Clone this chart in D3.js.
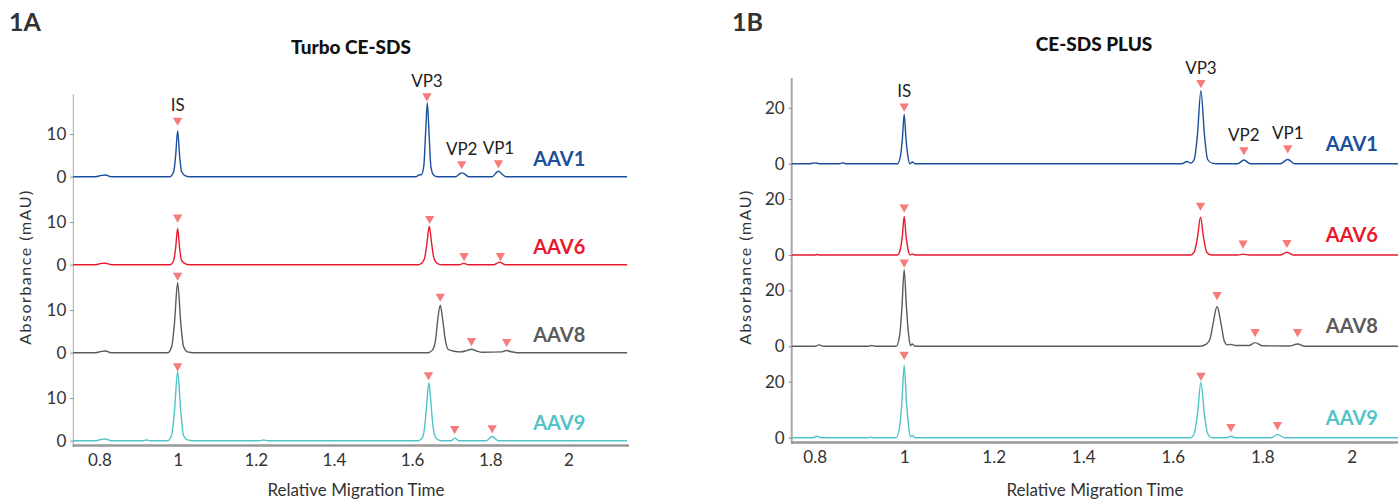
<!DOCTYPE html>
<html>
<head>
<meta charset="utf-8">
<script src="https://cdn.jsdelivr.net/npm/d3@7"></script>
<style>
  body { margin: 0; background: #fff; }
  svg { font-family: Lato, "Open Sans", sans-serif; }
</style>
</head>
<body>
<div id="chart"></div>
<script>
// series names and colours (same for both panels)
var seriesNames = ["AAV1", "AAV6", "AAV8", "AAV9"];
var seriesColors = ["#1c4f9c", "#e8192c", "#5b5b5b", "#52c3c9"];
var peakNames = ["IS", "VP3", "VP2", "VP1"];
var xTicks = [0.8, 1, 1.2, 1.4, 1.6, 1.8, 2];
var turboYTicks = [0, 10];
var plusYTicks = [0, 20];

// Turbo CE-SDS traces, [relative migration time, mAU]
var turboAAV1 = [[0.733,0],[0.79,0],[0.805,0.3],[0.815,0.4],[0.83,0],[0.98,0],[0.99,1.2],[0.995,5],[1.0,10.8],[1.005,5],[1.01,1.2],[1.02,0.2],[1.03,0],[1.61,0],[1.618,0.4],[1.624,0.5],[1.63,2.5],[1.635,11],[1.639,17.3],[1.643,11],[1.648,2.5],[1.655,0.4],[1.665,0],[1.712,0],[1.722,0.7],[1.727,0.9],[1.733,0.7],[1.745,0],[1.805,0],[1.815,0.9],[1.821,1.3],[1.827,0.9],[1.84,0],[2.15,0]];
var turboAAV6 = [[0.733,0],[0.79,0],[0.805,0.3],[0.815,0.35],[0.83,0],[0.98,0],[0.99,1],[0.995,4],[1.0,8.5],[1.005,4],[1.01,1],[1.02,0.2],[1.03,0],[1.615,0],[1.625,0.4],[1.632,1.5],[1.638,5],[1.644,9.0],[1.65,5],[1.656,1.5],[1.664,0.3],[1.675,0],[1.72,0],[1.732,0.3],[1.745,0],[1.81,0],[1.824,0.6],[1.838,0],[2.15,0]];
var turboAAV8 = [[0.733,0],[0.79,0],[0.805,0.3],[0.815,0.4],[0.83,0],[0.975,0],[0.985,1.5],[0.992,7],[1.0,16.4],[1.008,7],[1.015,1.5],[1.025,0.2],[1.04,0],[1.64,0],[1.652,0.6],[1.66,3],[1.666,8],[1.672,11.1],[1.678,8],[1.685,3],[1.692,0.8],[1.705,0.4],[1.725,0.2],[1.74,0.5],[1.752,0.8],[1.765,0.4],[1.78,0.1],[1.83,0.2],[1.841,0.5],[1.855,0.2],[1.87,0],[2.15,0]];
var turboAAV9 = [[0.733,0],[0.79,0],[0.805,0.3],[0.815,0.4],[0.83,0],[0.91,0],[0.92,0.15],[0.93,0],[0.975,0],[0.985,1.5],[0.992,7],[1.0,16.2],[1.008,7],[1.015,1.2],[1.025,0.2],[1.04,0],[1.21,0],[1.22,0.15],[1.23,0],[1.615,0],[1.625,0.5],[1.632,3],[1.637,8],[1.643,13.6],[1.649,8],[1.654,3],[1.662,0.5],[1.675,0],[1.7,0],[1.709,0.6],[1.72,0],[1.79,0],[1.805,1.0],[1.82,0],[2.15,0]];

// CE-SDS PLUS traces
var plusAAV1 = [[0.749,0],[0.79,0],[0.8,0.3],[0.81,0],[0.855,0],[0.862,0.3],[0.87,0],[0.985,0],[0.992,3],[0.996,9],[1.0,17.7],[1.004,9],[1.008,3],[1.013,0],[1.018,0.6],[1.024,0],[1.62,0],[1.632,0.8],[1.64,0.2],[1.648,1.5],[1.655,10],[1.663,26.1],[1.671,10],[1.678,1.5],[1.688,0.2],[1.7,0],[1.745,0],[1.759,1.3],[1.773,0],[1.84,0],[1.857,1.5],[1.872,0],[2.2,0]];
var plusAAV6 = [[0.749,0],[0.8,0],[0.805,0.2],[0.81,0],[0.985,0],[0.992,2.5],[0.996,7],[1.0,13.8],[1.004,7],[1.008,2.5],[1.013,0],[1.018,0.4],[1.024,0],[1.64,0],[1.648,1],[1.655,6],[1.662,13.5],[1.669,6],[1.676,1],[1.686,0],[1.745,0],[1.757,0.3],[1.77,0],[1.84,0],[1.855,1.0],[1.87,0],[2.2,0]];
var plusAAV8 = [[0.749,0],[0.8,0],[0.81,0.5],[0.82,0],[0.92,0],[0.928,0.3],[0.935,0],[0.982,0],[0.99,4],[0.995,14],[1.0,27.4],[1.005,14],[1.01,4],[1.014,0.3],[1.018,0.8],[1.024,0],[1.66,0],[1.675,0.8],[1.683,2.5],[1.69,8],[1.699,14.2],[1.708,8],[1.715,2],[1.722,0.5],[1.73,0.7],[1.74,0.3],[1.77,0.3],[1.784,1.3],[1.8,0.2],[1.86,0.1],[1.879,0.8],[1.895,0],[2.2,0]];
var plusAAV9 = [[0.749,0],[0.795,0],[0.805,0.5],[0.815,0],[0.92,0],[0.925,0.2],[0.93,0],[0.982,0],[0.99,4],[0.995,13],[1.0,25.9],[1.005,13],[1.01,4],[1.014,0.3],[1.018,0.7],[1.025,0],[1.64,0],[1.648,1.5],[1.655,8],[1.663,19.8],[1.671,8],[1.678,1.5],[1.688,0],[1.72,0],[1.73,0.5],[1.74,0],[1.82,0],[1.834,1.2],[1.85,0],[2.2,0]];

// peak markers (IS, VP3, VP2, VP1), [time, mAU]
var turboMarkAAV1 = [[1.0,13.2],[1.638,18.9],[1.727,3.0],[1.821,3.2]];
var turboMarkAAV6 = [[1.0,11.1],[1.645,10.8],[1.733,2.1],[1.826,2.1]];
var turboMarkAAV8 = [[1.0,18.1],[1.672,13.2],[1.752,2.8],[1.842,2.6]];
var turboMarkAAV9 = [[1.0,17.5],[1.642,15.4],[1.709,2.8],[1.805,3.0]];
var plusMarkAAV1 = [[1.0,20.5],[1.663,28.9],[1.759,4.9],[1.857,5.6]];
var plusMarkAAV6 = [[1.0,17.1],[1.662,17.7],[1.757,4.2],[1.855,4.4]];
var plusMarkAAV8 = [[1.0,30.0],[1.699,18.4],[1.784,5.2],[1.879,5.2]];
var plusMarkAAV9 = [[1.0,29.7],[1.663,22.2],[1.73,3.9],[1.834,4.6]];

var W = 1398, H = 499;
var svg = d3.select("#chart").append("svg")
    .attr("width", W)
    .attr("height", H);

function drawPanel(p){
    var g = svg.append("g");

    // x scale
    var x = d3.scaleLinear().domain(p.xDomain).range(p.xRange);

    // panel letter and title
    g.append("text").attr("x", p.letterX).attr("y", 31)
        .attr("font-size", 25).attr("font-weight", 700).attr("fill", "#333")
        .text(p.letter);
    g.append("text").attr("x", p.titleX).attr("y", p.titleY)
        .attr("text-anchor", "middle").attr("font-size", 19).attr("font-weight", 900)
        .attr("fill", "#111").text(p.title);

    // y axis line (full height)
    g.append("line")
        .attr("x1", p.xRange[0]).attr("x2", p.xRange[0])
        .attr("y1", p.axisTop).attr("y2", p.axisBottom)
        .attr("stroke", "#a8a8a8").attr("stroke-width", p.yAxisWidth);

    var line = d3.line().curve(d3.curveMonotoneX);
    var symbol = d3.symbol().type(d3.symbolTriangle).size(38);

    p.traces.forEach(function(trace, i){
        var b = p.baselines[i];
        var y = d3.scaleLinear().domain([0, p.yMax]).range([b, b - p.tickPx]);

        // y ticks for this track
        var ax = g.append("g")
            .attr("transform", "translate(" + p.xRange[0] + ",0)")
            .call(d3.axisLeft(y).tickValues(p.yTicks).tickSize(3).tickPadding(4));
        ax.select(".domain").remove();
        ax.selectAll("line").attr("stroke", "#888");
        ax.selectAll("text").attr("font-size", 17).attr("fill", "#333")
            .attr("font-family", "Lato, sans-serif");

        // trace
        line.x(function(d){ return x(d[0]); }).y(function(d){ return y(d[1]); });
        g.append("path").datum(trace)
            .attr("d", line)
            .attr("fill", "none")
            .attr("stroke", seriesColors[i])
            .attr("stroke-width", 1.4);

        // markers
        g.selectAll(null).data(p.marks[i]).enter()
            .append("path")
            .attr("d", symbol)
            .attr("transform", function(d){ return "translate(" + x(d[0]) + "," + y(d[1]) + ") rotate(180)"; })
            .attr("fill", "#f77b7b");

        // peak names on first trace
        if (i === 0) {
            g.selectAll(null).data(p.marks[i]).enter()
                .append("text")
                .attr("x", function(d){ return x(d[0]); })
                .attr("y", function(d){ return y(d[1]) - 9; })
                .attr("text-anchor", "middle")
                .attr("font-size", 17).attr("fill", "#222")
                .text(function(d, j){ return peakNames[j]; });
        }

        // series label
        g.append("text")
            .attr("x", x(p.labelT))
            .attr("y", b - p.labelOffset)
            .attr("dy", "0.35em")
            .attr("font-size", 20).attr("font-weight", 700)
            .attr("fill", seriesColors[i])
            .text(seriesNames[i]);
    });

    // x axis
    var xa = g.append("g")
        .attr("transform", "translate(0," + p.axisBottom + ")")
        .call(d3.axisBottom(x).tickValues(xTicks).tickSize(2).tickPadding(7)
              .tickFormat(d3.format("")));
    xa.select(".domain").attr("stroke", "#999").attr("stroke-width", 2.5);
    xa.selectAll("line").attr("stroke", "#999");
    xa.selectAll("text").attr("font-size", 17).attr("fill", "#333")
        .attr("font-family", "Lato, sans-serif");

    // axis titles
    g.append("text")
        .attr("x", p.xTitleX).attr("y", 496)
        .attr("text-anchor", "middle").attr("font-size", 17).attr("fill", "#333")
        .text("Relative Migration Time");
    g.append("text")
        .attr("transform", "translate(" + p.yTitleX + ",267) rotate(-90)")
        .attr("text-anchor", "middle").attr("font-size", 16).attr("fill", "#333")
        .attr("letter-spacing", 1.5)
        .text("Absorbance (mAU)");
}

drawPanel({
    letter: "1A", letterX: 9,
    title: "Turbo CE-SDS", titleX: 351, titleY: 54,
    xDomain: [0.733, 2.15], xRange: [73.3, 627],
    axisTop: 94, axisBottom: 445, yAxisWidth: 1,
    baselines: [176.7, 264.7, 352.7, 440.7],
    yMax: 10, tickPx: 42.7, yTicks: turboYTicks,
    traces: [turboAAV1, turboAAV6, turboAAV8, turboAAV9],
    marks: [turboMarkAAV1, turboMarkAAV6, turboMarkAAV8, turboMarkAAV9],
    labelT: 1.91, labelOffset: 18,
    xTitleX: 356, yTitleX: 31
});

drawPanel({
    letter: "1B", letterX: 732,
    title: "CE-SDS PLUS", titleX: 1094, titleY: 51,
    xDomain: [0.7487, 2.2], xRange: [791.7, 1441.3],
    axisTop: 78, axisBottom: 442, yAxisWidth: 2,
    baselines: [163.7, 255, 346.3, 437.7],
    yMax: 20, tickPx: 56, yTicks: plusYTicks,
    traces: [plusAAV1, plusAAV6, plusAAV8, plusAAV9],
    marks: [plusMarkAAV1, plusMarkAAV6, plusMarkAAV8, plusMarkAAV9],
    labelT: 1.942, labelOffset: 20,
    xTitleX: 1095, yTitleX: 751
});
</script>
</body>
</html>
